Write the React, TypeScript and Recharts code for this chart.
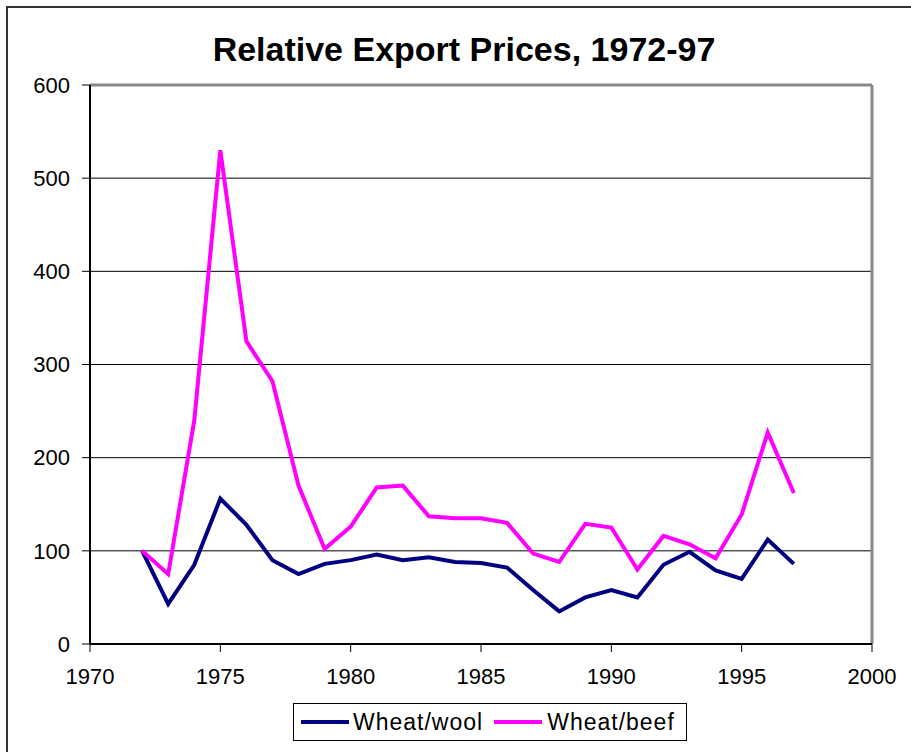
import React from 'react';
import { LineChart, Line, XAxis, YAxis, CartesianGrid, Legend, ReferenceLine } from 'recharts';

const years = [
  1972, 1973, 1974, 1975, 1976, 1977, 1978, 1979, 1980, 1981, 1982, 1983, 1984,
  1985, 1986, 1987, 1988, 1989, 1990, 1991, 1992, 1993, 1994, 1995, 1996, 1997,
];
const wheatWool = [
  100, 43, 85, 156, 128, 90, 75, 86, 90, 96, 90, 93, 88,
  87, 82, 58, 35, 50, 58, 50, 85, 99, 79, 70, 112, 86,
];
const wheatBeef = [
  100, 75, 240, 530, 325, 282, 170, 102, 126, 168, 170, 137, 135,
  135, 130, 97, 88, 129, 125, 80, 116, 107, 92, 139, 227, 162,
];
const xTicks = [1970, 1975, 1980, 1985, 1990, 1995, 2000];
const yTicks = [0, 100, 200, 300, 400, 500, 600];

const data = years.map((year, i) => ({
  year,
  wool: wheatWool[i],
  beef: wheatBeef[i],
}));

const font = '"Liberation Sans", Arial, sans-serif';

const LegendBox = () => (
  <div
    style={{
      boxSizing: 'border-box',
      width: 394,
      height: 38,
      border: '1px solid #000',
      background: '#fff',
      display: 'flex',
      alignItems: 'center',
      paddingLeft: 7,
      fontFamily: font,
      fontSize: 23,
      letterSpacing: 1,
      color: '#000',
    }}
  >
    <span style={{ width: 48, height: 4, background: '#000080', display: 'inline-block', marginRight: 4 }} />
    <span style={{ marginRight: 11 }}>Wheat/wool</span>
    <span style={{ width: 48, height: 4, background: '#FF00FF', display: 'inline-block', marginRight: 5 }} />
    <span>Wheat/beef</span>
  </div>
);

export default function App() {
  return (
    <div style={{ position: 'absolute', left: 0, top: 0, width: 911, height: 752, overflow: 'hidden', background: '#fff' }}>
      {/* chart frame, runs off the right and bottom edges */}
      <div
        style={{
          position: 'absolute',
          left: 6,
          top: 6,
          width: 1000,
          height: 1000,
          border: '2px solid #333',
        }}
      />
      <div
        style={{
          position: 'absolute',
          left: 0,
          top: 32,
          width: 911,
          textAlign: 'center',
          fontFamily: font,
          fontWeight: 'bold',
          fontSize: 34,
          lineHeight: '34px',
          paddingLeft: 17,
          boxSizing: 'border-box',
        }}
      >
        Relative Export Prices, 1972-97
      </div>
      <div style={{ position: 'absolute', left: 0, top: 0 }}>
        <LineChart width={911} height={752} data={data} margin={{ top: 85, right: 39, bottom: 0, left: 0 }}>
          <CartesianGrid horizontal vertical={false} stroke="#000" strokeWidth={1} />
          <XAxis
            dataKey="year"
            type="number"
            domain={[1970, 2000]}
            ticks={xTicks}
            interval={0}
            height={108}
            tickSize={8}
            tickMargin={16}
            axisLine={{ stroke: '#000', strokeWidth: 2 }}
            tickLine={{ stroke: '#000', strokeWidth: 1 }}
            tick={{ fill: '#000', fontFamily: font, fontSize: 22 }}
          />
          <YAxis
            domain={[0, 600]}
            ticks={yTicks}
            interval={0}
            width={90}
            tickSize={8}
            tickMargin={12}
            axisLine={{ stroke: '#000', strokeWidth: 2 }}
            tickLine={{ stroke: '#000', strokeWidth: 1 }}
            tick={{ fill: '#000', fontFamily: font, fontSize: 22 }}
          />
          {/* grey plot-area border, top and right */}
          <ReferenceLine y={600} stroke="#888" strokeWidth={3} />
          <ReferenceLine x={2000} stroke="#888" strokeWidth={3} />
          <Legend
            layout="horizontal"
            verticalAlign="middle"
            align="center"
            content={() => <LegendBox />}
            wrapperStyle={{ position: 'absolute', left: 293, top: 703, width: 394, height: 38 }}
          />
          <Line dataKey="wool" name="Wheat/wool" stroke="#000080" strokeWidth={4} dot={false} isAnimationActive={false} />
          <Line dataKey="beef" name="Wheat/beef" stroke="#FF00FF" strokeWidth={4} dot={false} isAnimationActive={false} />
        </LineChart>
      </div>
    </div>
  );
}
